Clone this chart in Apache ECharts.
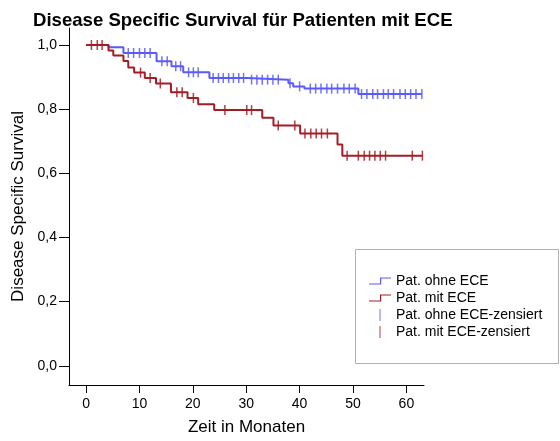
<!DOCTYPE html>
<html>
<head>
<meta charset="utf-8">
<script src="https://cdn.jsdelivr.net/npm/echarts@6/dist/echarts.min.js"></script>
<style>
  html, body { margin: 0; padding: 0; background: #fff; }
  #chart { width: 560px; height: 441px; }
</style>
</head>
<body>
<div id="chart"></div>
<script>
// Kaplan-Meier estimates: event times (months) and survival after each step
const ohneTimes = [0, 4.2, 7.0, 13.2, 16.0, 18.2, 23.1, 30.2, 37.9, 38.8, 40.9, 51.0, 62.9];
const ohneSurv  = [1.0, 0.993, 0.975, 0.949, 0.934, 0.915, 0.897, 0.892, 0.881, 0.871, 0.864, 0.847, 0.847];
const mitTimes  = [0, 4.2, 5.1, 7.0, 7.9, 9.0, 11.0, 13.1, 15.9, 19.0, 21.0, 24.0, 33.0, 35.1, 40.1, 47.1, 48.0, 63.0];
const mitSurv   = [1.0, 0.983, 0.967, 0.95, 0.93, 0.914, 0.897, 0.88, 0.853, 0.835, 0.815, 0.797, 0.773, 0.749, 0.724, 0.69, 0.655, 0.655];

// Censored observations (months)
const ohneCensored = [7.9, 8.9, 10, 11, 12, 14.2, 15.2, 16.8, 17.7, 19.2, 20.1, 21.0, 23.8, 24.8, 25.7, 26.7, 27.6, 28.6, 29.5,
  31, 32, 33, 34, 35, 36, 38.2, 40, 42, 43, 44, 45.1, 46, 47.1, 48.3, 49.3, 50.4,
  51.6, 52.6, 53.7, 54.6, 55.7, 56.6, 57.6, 58.8, 59.8, 60.8, 61.8, 62.9];
const mitCensored = [1.0, 2.1, 3.0, 10.2, 12, 13.9, 17, 18, 20.1, 26, 30.1, 31, 36, 39.1, 41, 42.1, 43.1, 44.1, 45.2,
  48.9, 51, 52.1, 53.1, 54.1, 55.1, 56.1, 61.1, 63.0];

// Axis ticks
const xTicks = [0, 10, 20, 30, 40, 50, 60];
const yTicks = [0, 0.2, 0.4, 0.6, 0.8, 1.0];

const names = ['Pat. ohne ECE', 'Pat. mit ECE', 'Pat. ohne ECE-zensiert', 'Pat. mit ECE-zensiert'];
const blue = '#5a5aff';
const red = '#a41c24';

function stepData(times, surv) {
  return times.map((t, i) => [t, surv[i]]);
}
// Survival level in effect at time t (right-continuous step function)
function levelAt(times, surv, t) {
  let v = surv[0];
  for (let i = 0; i < times.length; i++) {
    if (times[i] <= t) v = surv[i];
  }
  return v;
}
function censorData(cens, times, surv) {
  return cens.map(t => [t, levelAt(times, surv, t)]);
}

const stepIcon = 'path://M0,6 L11,6 L11,0 L22,0 L22,1.2 L12.2,1.2 L12.2,7.2 L0,7.2 Z';
const tickIcon = 'path://M0,0 L1,0 L1,12 L0,12 Z';

const chart = echarts.init(document.getElementById('chart'), null, { renderer: 'canvas' });
chart.setOption({
  animation: false,
  backgroundColor: '#ffffff',
  textStyle: { fontFamily: 'Liberation Sans, Arial, sans-serif' },
  title: {
    text: 'Disease Specific Survival für Patienten mit ECE',
    left: 28,
    top: 6,
    textStyle: { fontSize: 18.6, fontWeight: 'bold', color: '#000', fontFamily: 'Liberation Sans, Arial, sans-serif' }
  },
  graphic: [{
    type: 'rect',
    left: 355,
    top: 249,
    shape: { width: 203, height: 114 },
    style: { fill: '#fff', stroke: '#b0b0b0', lineWidth: 1 },
    z: 0
  }],
  legend: {
    orient: 'vertical',
    left: 369,
    top: 274,
    itemWidth: 22,
    itemHeight: 12,
    itemGap: 3,
    padding: 0,
    textStyle: { fontSize: 14, color: '#000', lineHeight: 14, fontFamily: 'Liberation Sans, Arial, sans-serif' },
    data: [
      { name: names[0], icon: stepIcon },
      { name: names[1], icon: stepIcon },
      { name: names[2], icon: tickIcon },
      { name: names[3], icon: tickIcon }
    ],
    z: 5
  },
  grid: { left: 69, right: 136, top: 28, bottom: 54, containLabel: false },
  xAxis: {
    type: 'value',
    min: -3.2,
    max: 63.3,
    name: 'Zeit in Monaten',
    nameLocation: 'middle',
    nameGap: 34,
    nameTextStyle: { fontSize: 17, color: '#000' },
    axisLine: { show: true, onZero: false, lineStyle: { color: '#000', width: 1 } },
    axisTick: { show: true, inside: false, length: 8, customValues: xTicks, lineStyle: { color: '#000' } },
    axisLabel: { customValues: xTicks, fontSize: 14, color: '#000', margin: 12 },
    splitLine: { show: false }
  },
  yAxis: {
    type: 'value',
    min: -0.06,
    max: 1.053,
    name: 'Disease Specific Survival',
    nameLocation: 'middle',
    nameGap: 40,
    nameTextStyle: { fontSize: 17, color: '#000' },
    axisLine: { show: true, onZero: false, lineStyle: { color: '#000', width: 1 } },
    axisTick: { show: true, inside: false, length: 10, customValues: yTicks, lineStyle: { color: '#000' } },
    axisLabel: {
      customValues: yTicks, fontSize: 14, color: '#000', margin: 12,
      formatter: v => v.toFixed(1).replace('.', ',')
    },
    splitLine: { show: false }
  },
  series: [
    {
      name: names[0], type: 'line', step: 'end', showSymbol: false,
      data: stepData(ohneTimes, ohneSurv),
      lineStyle: { color: blue, width: 2 }, itemStyle: { color: blue }, z: 3
    },
    {
      name: names[1], type: 'line', step: 'end', showSymbol: false,
      data: stepData(mitTimes, mitSurv),
      lineStyle: { color: red, width: 2 }, itemStyle: { color: red }, z: 4
    },
    {
      name: names[2], type: 'scatter', symbol: 'rect', symbolSize: [1.5, 10],
      data: censorData(ohneCensored, ohneTimes, ohneSurv),
      itemStyle: { color: blue, opacity: 0.85 }, z: 3
    },
    {
      name: names[3], type: 'scatter', symbol: 'rect', symbolSize: [1.5, 10],
      data: censorData(mitCensored, mitTimes, mitSurv),
      itemStyle: { color: red, opacity: 0.85 }, z: 4
    }
  ]
});
</script>
</body>
</html>
